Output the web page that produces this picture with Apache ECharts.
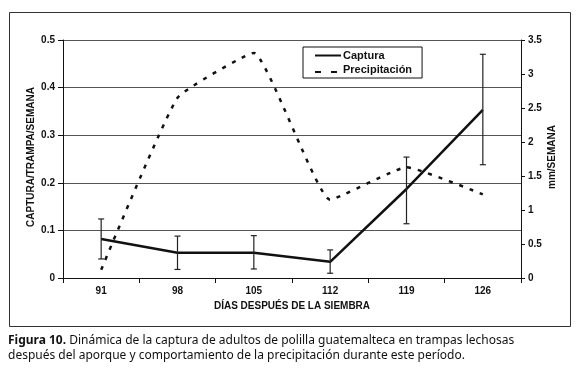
<!DOCTYPE html>
<html>
<head>
<meta charset="utf-8">
<script src="https://cdn.jsdelivr.net/npm/echarts@6/dist/echarts.min.js"></script>
<style>
html,body{margin:0;padding:0;background:#fff;}
#chart{width:580px;height:371px;}
</style>
</head>
<body>
<div id="chart"></div>
<script>
const categories = ['91', '98', '105', '112', '119', '126'];
const captura = [0.082, 0.053, 0.053, 0.034, 0.187, 0.353];
const capturaLow = [0.040, 0.018, 0.019, 0.010, 0.114, 0.238];
const capturaHigh = [0.124, 0.088, 0.089, 0.059, 0.254, 0.470];
const precipitacion = [0.12, 2.65, 3.31, 1.15, 1.63, 1.23];
const leftTicks = [0, 0.1, 0.2, 0.3, 0.4, 0.5];
const rightTicks = [0, 0.5, 1, 1.5, 2, 2.5, 3, 3.5];
const leftName = 'CAPTURA/TRAMPA/SEMANA';
const rightName = 'mm/SEMANA';

const chart = echarts.init(document.getElementById('chart'), null, {renderer: 'canvas'});
const bold = {fontFamily: 'Liberation Sans, Arial', fontWeight: 'bold', color: '#111'};
const errData = categories.map((c, i) => [i, capturaLow[i], capturaHigh[i]]);

chart.setOption({
  animation: false,
  backgroundColor: '#fff',
  grid: {left: 63, right: 59, top: 40, bottom: 93},
  legend: {
    orient: 'vertical', left: 303, top: 47,
    borderColor: '#111', borderWidth: 1,
    padding: [3, 10, 3, 12], itemGap: 3, itemWidth: 26, itemHeight: 10,
    textStyle: Object.assign({fontSize: 11, padding: [0,0,0,-3]}, bold),
    data: [
      {name: 'Captura', icon: 'path://M0,4L26,4L26,6L0,6Z'},
      {name: 'Precipitación', icon: 'path://M0,4L6,4L6,6L0,6Z M0,-1L0,-1 M16,4L22,4L22,6L16,6Z M26,-1L26,-1'}
    ]
  },
  xAxis: {
    type: 'category', data: categories, boundaryGap: true,
    axisLine: {lineStyle: {color: '#111', width: 1.2}},
    axisTick: {show: true, length: 5, interval: 0, lineStyle: {color: '#111'}},
    axisLabel: Object.assign({fontSize: 10, margin: 8}, bold),
    name: 'DÍAS DESPUÉS DE LA SIEMBRA', nameLocation: 'middle', nameGap: 23,
    nameTextStyle: Object.assign({fontSize: 10}, bold)
  },
  yAxis: [{
    type: 'value', min: 0, max: 0.5, interval: 0.1,
    axisLine: {show: true, lineStyle: {color: '#111', width: 1}},
    axisTick: {show: true, length: 5, lineStyle: {color: '#111'}},
    axisLabel: Object.assign({fontSize: 10, margin: 8}, bold),
    splitLine: {show: true, lineStyle: {color: '#555', width: 1}}
  }, {
    type: 'value', min: 0, max: 3.5, interval: 0.5, position: 'right',
    axisLine: {show: true, lineStyle: {color: '#111', width: 1}},
    axisTick: {show: true, length: 4, lineStyle: {color: '#111'}},
    axisLabel: Object.assign({fontSize: 10, margin: 7}, bold),
    splitLine: {show: false}
  }],
  series: [{
    name: 'Captura', type: 'line', data: captura, yAxisIndex: 0,
    symbol: 'none', lineStyle: {color: '#111', width: 2.5}, itemStyle: {color: '#111'}, z: 5
  }, {
    name: 'Precipitación', type: 'line', data: precipitacion, yAxisIndex: 1,
    symbol: 'none', smooth: 0.12,
    lineStyle: {color: '#111', width: 2.5, type: [4, 7]}, itemStyle: {color: '#111'}, z: 4
  }, {
    type: 'custom', yAxisIndex: 0, data: errData, z: 6, silent: true,
    renderItem: function (params, api) {
      const x = api.coord([api.value(0), api.value(1)])[0];
      const yl = api.coord([api.value(0), api.value(1)])[1];
      const yh = api.coord([api.value(0), api.value(2)])[1];
      const w = 3;
      const st = {stroke: '#222', lineWidth: 1.2};
      return {type: 'group', children: [
        {type: 'line', shape: {x1: x, y1: yl, x2: x, y2: yh}, style: st},
        {type: 'line', shape: {x1: x - w, y1: yl, x2: x + w, y2: yl}, style: st},
        {type: 'line', shape: {x1: x - w, y1: yh, x2: x + w, y2: yh}, style: st}
      ]};
    }
  }],
  graphic: [
    {type: 'rect', shape: {x: 9.5, y: 12.5, width: 561, height: 314}, style: {fill: 'none', stroke: '#333', lineWidth: 1}, silent: true},
    {type: 'text', x: 31, y: 157, rotation: Math.PI / 2, style: {
      text: leftName, font: 'bold 10px "Liberation Sans", Arial', fill: '#111',
      textAlign: 'center', textVerticalAlign: 'middle'
    }},
    {type: 'text', x: 552, y: 157, rotation: Math.PI / 2, style: {
      text: rightName, font: 'bold 10px "Liberation Sans", Arial', fill: '#111',
      textAlign: 'center', textVerticalAlign: 'middle'
    }},
    {type: 'text', left: 8, top: 335, style: {
      text: '{b|Figura 10.} Dinámica de la captura de adultos de polilla guatemalteca en trampas lechosas',
      font: '12px "Noto Sans"', fill: '#111',
      rich: {b: {fontWeight: 'bold', fontFamily: 'Noto Sans', fontSize: 12, fill: '#111'}}
    }},
    {type: 'text', left: 8, top: 350, style: {
      text: 'después del aporque y comportamiento de la precipitación durante este período.',
      font: '12px "Noto Sans"', fill: '#111'
    }}
  ]
});
</script>
</body>
</html>
